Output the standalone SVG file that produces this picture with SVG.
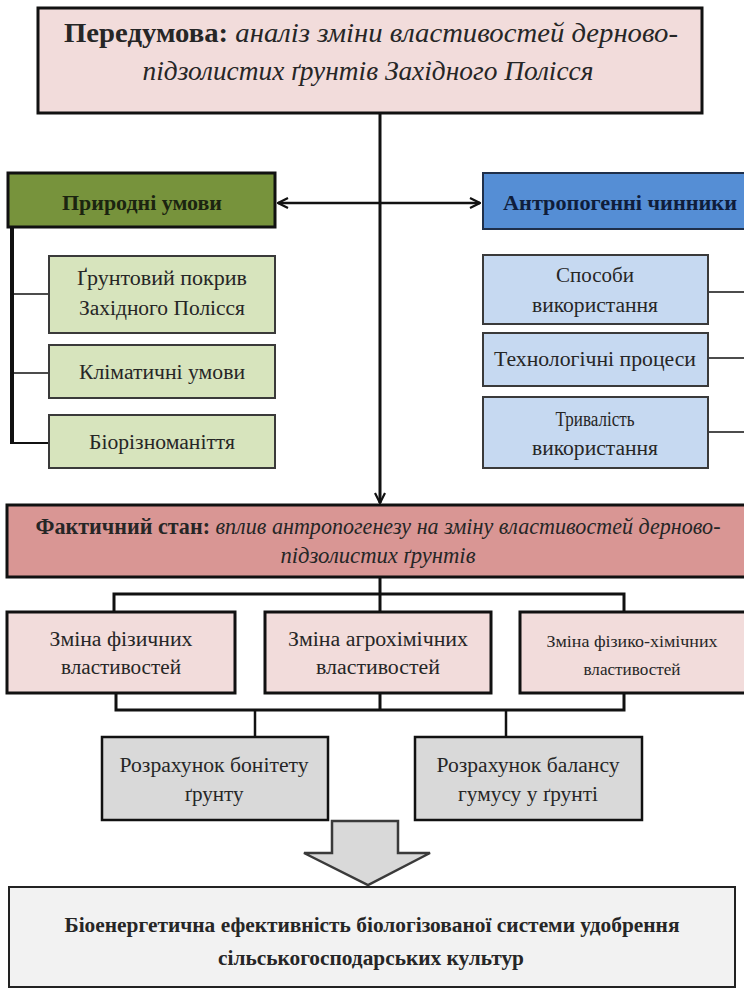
<svg xmlns="http://www.w3.org/2000/svg" width="744" height="989" viewBox="0 0 744 989">
<defs>
<style>
.t{font-family:"Liberation Serif","Times New Roman",serif;fill:#262626;text-anchor:middle}
.b{font-weight:bold}
.i{font-style:italic}
.bx{stroke:#111;stroke-width:3}
.sb{stroke:#3a3a3a;stroke-width:2}
.ln{stroke:#111;fill:none}
</style>
<marker id="ah" viewBox="0 0 12 12" refX="11" refY="6" markerWidth="12" markerHeight="12" markerUnits="userSpaceOnUse" orient="auto-start-reverse">
<path d="M1,1 L11,6 L1,11" fill="none" stroke="#111" stroke-width="2.2"/>
</marker>
</defs>
<rect width="744" height="989" fill="#fff"/>

<g id="connectors">
<line class="ln" x1="380" y1="113" x2="380" y2="503" stroke-width="3" marker-end="url(#ah)"/>
<line class="ln" x1="278" y1="203" x2="480" y2="203" stroke-width="2.5" marker-start="url(#ah)" marker-end="url(#ah)"/>
<line class="ln" x1="12" y1="220" x2="12" y2="444" stroke-width="4"/>
<line class="ln" x1="12" y1="294" x2="49" y2="294" stroke-width="1.5"/>
<line class="ln" x1="12" y1="373" x2="49" y2="373" stroke-width="1.5"/>
<line class="ln" x1="10" y1="443" x2="49" y2="443" stroke-width="2"/>
<line class="ln" x1="708" y1="292" x2="744" y2="292" stroke-width="1.5"/>
<line class="ln" x1="708" y1="358" x2="744" y2="358" stroke-width="1.5"/>
<line class="ln" x1="708" y1="432" x2="744" y2="432" stroke-width="1.5"/>
<line class="ln" x1="380" y1="577" x2="380" y2="594" stroke-width="3"/>
<path class="ln" d="M114,612 V594 H624 V612" stroke-width="3"/>
<line class="ln" x1="380" y1="594" x2="380" y2="612" stroke-width="3"/>
<path class="ln" d="M116,693 V710 H624 V693" stroke-width="3"/>
<line class="ln" x1="380" y1="693" x2="380" y2="710" stroke-width="3"/>
<line class="ln" x1="255" y1="710" x2="255" y2="737" stroke-width="2.5"/>
<line class="ln" x1="506" y1="710" x2="506" y2="737" stroke-width="2.5"/>
<path d="M332,821 H398 V853 H430 L368,885 L304,853 H332 Z" fill="#d9d9d9" stroke="#3a3a3a" stroke-width="2.5" stroke-linejoin="miter"/>
</g>

<g id="premise">
<rect class="bx" x="38" y="8" width="664" height="105" fill="#f2dcdb"/>
<text class="t" x="371" y="42" font-size="27" textLength="614" lengthAdjust="spacingAndGlyphs"><tspan class="b">Передумова:</tspan><tspan class="i"> аналіз зміни властивостей дерново-</tspan></text>
<text class="t i" x="368" y="80" font-size="27" textLength="451" lengthAdjust="spacingAndGlyphs">підзолистих ґрунтів Західного Полісся</text>
</g>

<g id="natural">
<rect class="bx" x="8" y="173" width="267" height="54" fill="#77933c"/>
<text class="t b" x="142" y="210" font-size="20" fill="#1b2410" style="fill:#1b2410" textLength="160" lengthAdjust="spacingAndGlyphs">Природні умови</text>
</g>

<g id="anthropogenic">
<rect x="483" y="173" width="280" height="56" fill="#558ed5" stroke="#1f2f4a" stroke-width="2"/>
<text class="t b" x="620" y="210" font-size="21" style="fill:#0f1d3a" textLength="234" lengthAdjust="spacingAndGlyphs">Антропогенні чинники</text>
</g>

<g id="soil-cover">
<rect class="sb" x="49" y="256" width="226" height="77" fill="#d7e4bd"/>
<text class="t" x="162" y="285" font-size="20" textLength="170" lengthAdjust="spacingAndGlyphs">Ґрунтовий покрив</text>
<text class="t" x="162" y="315" font-size="20" textLength="166" lengthAdjust="spacingAndGlyphs">Західного Полісся</text>
</g>
<g id="climate">
<rect class="sb" x="49" y="345" width="226" height="53" fill="#d7e4bd"/>
<text class="t" x="162" y="379" font-size="20" textLength="166" lengthAdjust="spacingAndGlyphs">Кліматичні умови</text>
</g>
<g id="biodiversity">
<rect class="sb" x="49" y="415" width="226" height="53" fill="#d7e4bd"/>
<text class="t" x="162" y="449" font-size="20" textLength="146" lengthAdjust="spacingAndGlyphs">Біорізноманіття</text>
</g>

<g id="usage-methods">
<rect class="sb" x="483" y="255" width="225" height="69" fill="#c6d9f1"/>
<text class="t" x="595" y="282" font-size="20" textLength="78" lengthAdjust="spacingAndGlyphs">Способи</text>
<text class="t" x="595" y="312" font-size="20" textLength="126" lengthAdjust="spacingAndGlyphs">використання</text>
</g>
<g id="tech-processes">
<rect class="sb" x="483" y="333" width="225" height="53" fill="#c6d9f1"/>
<text class="t" x="595" y="366" font-size="20" textLength="202" lengthAdjust="spacingAndGlyphs">Технологічні процеси</text>
</g>
<g id="usage-duration">
<rect class="sb" x="483" y="397" width="225" height="71" fill="#c6d9f1"/>
<text class="t" x="595" y="426" font-size="20" textLength="79" lengthAdjust="spacingAndGlyphs">Тривалість</text>
<text class="t" x="595" y="455" font-size="20" textLength="126" lengthAdjust="spacingAndGlyphs">використання</text>
</g>

<g id="actual-state">
<rect class="bx" x="7" y="505" width="760" height="72" fill="#d99694"/>
<text class="t" x="378" y="534" font-size="23" textLength="685" lengthAdjust="spacingAndGlyphs"><tspan class="b">Фактичний стан:</tspan><tspan class="i"> вплив антропогенезу на зміну властивостей дерново-</tspan></text>
<text class="t i" x="378" y="563" font-size="23" textLength="195" lengthAdjust="spacingAndGlyphs">підзолистих ґрунтів</text>
</g>

<g id="physical">
<rect class="bx" x="7" y="612" width="228" height="81" fill="#f2dcdb"/>
<text class="t" x="121" y="646" font-size="20" textLength="143" lengthAdjust="spacingAndGlyphs">Зміна фізичних</text>
<text class="t" x="121" y="674" font-size="20" textLength="120" lengthAdjust="spacingAndGlyphs">властивостей</text>
</g>
<g id="agrochemical">
<rect class="bx" x="265" y="612" width="226" height="81" fill="#f2dcdb"/>
<text class="t" x="378" y="646" font-size="20" textLength="180" lengthAdjust="spacingAndGlyphs">Зміна агрохімічних</text>
<text class="t" x="378" y="674" font-size="20" textLength="124" lengthAdjust="spacingAndGlyphs">властивостей</text>
</g>
<g id="physchem">
<rect class="bx" x="520" y="612" width="230" height="81" fill="#f2dcdb"/>
<text class="t" x="632" y="647" font-size="16" textLength="171" lengthAdjust="spacingAndGlyphs">Зміна фізико-хімічних</text>
<text class="t" x="632" y="675" font-size="16" textLength="97" lengthAdjust="spacingAndGlyphs">властивостей</text>
</g>

<g id="bonitet">
<rect x="102" y="737" width="226" height="83" fill="#d9d9d9" stroke="#111" stroke-width="2.5"/>
<text class="t" x="214" y="772" font-size="20" textLength="189" lengthAdjust="spacingAndGlyphs">Розрахунок бонітету</text>
<text class="t" x="214" y="801" font-size="20" textLength="59" lengthAdjust="spacingAndGlyphs">ґрунту</text>
</g>
<g id="humus">
<rect x="415" y="737" width="227" height="83" fill="#d9d9d9" stroke="#111" stroke-width="2.5"/>
<text class="t" x="528" y="772" font-size="20" textLength="183" lengthAdjust="spacingAndGlyphs">Розрахунок балансу</text>
<text class="t" x="528" y="801" font-size="20" textLength="140" lengthAdjust="spacingAndGlyphs">гумусу у ґрунті</text>
</g>

<g id="bioenergy">
<rect x="9" y="887" width="726" height="100" fill="#f2f2f2" stroke="#222" stroke-width="2"/>
<text class="t b" x="372" y="932" font-size="20" textLength="615" lengthAdjust="spacingAndGlyphs">Біоенергетична ефективність біологізованої системи удобрення</text>
<text class="t b" x="371" y="965" font-size="20" textLength="306" lengthAdjust="spacingAndGlyphs">сільськогосподарських культур</text>
</g>
</svg>
